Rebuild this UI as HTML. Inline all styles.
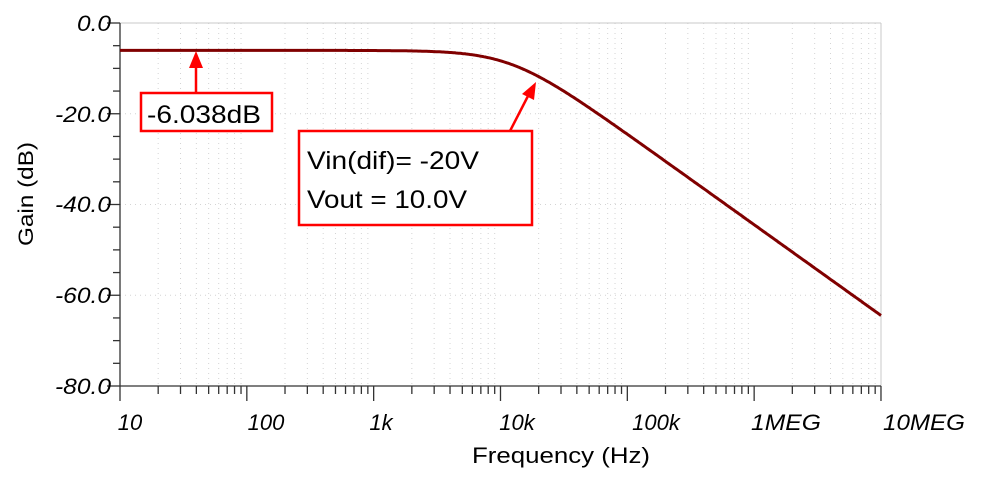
<!DOCTYPE html><html><head><style>body{margin:0;background:#fff}svg{display:block}</style></head><body>
<svg id="s" width="981" height="482" xmlns="http://www.w3.org/2000/svg" font-family="Liberation Sans, sans-serif">
<g id="grid" stroke="#d4d4d4" stroke-width="1" stroke-dasharray="1,4"></g>
<line x1="120" y1="23" x2="881" y2="23" stroke="#c8c8c8"/>
<line x1="881" y1="23" x2="881" y2="386" stroke="#c8c8c8"/>
<g id="axes" stroke="#333" stroke-width="1.3"></g>
<path id="curve" fill="none" stroke="#800000" stroke-width="3"/>
<g font-style="italic" font-size="22" fill="#000" text-anchor="end">
<text x="111" y="31" textLength="34" lengthAdjust="spacingAndGlyphs">0.0</text>
<text x="111" y="122" textLength="56" lengthAdjust="spacingAndGlyphs">-20.0</text>
<text x="111" y="212" textLength="56" lengthAdjust="spacingAndGlyphs">-40.0</text>
<text x="111" y="303" textLength="56" lengthAdjust="spacingAndGlyphs">-60.0</text>
<text x="111" y="394" textLength="56" lengthAdjust="spacingAndGlyphs">-80.0</text>
</g>
<g font-style="italic" font-size="22" fill="#000" text-anchor="middle">
<text x="130" y="430">10</text><text x="266" y="430">100</text><text x="381" y="430">1k</text><text x="517" y="430">10k</text><text x="656" y="430">100k</text><text x="786" y="430" textLength="70" lengthAdjust="spacingAndGlyphs">1MEG</text><text x="924" y="430" textLength="82" lengthAdjust="spacingAndGlyphs">10MEG</text>
</g>
<text x="561" y="463" font-size="22" text-anchor="middle" textLength="178" lengthAdjust="spacingAndGlyphs">Frequency (Hz)</text>
<text transform="translate(33,194) rotate(-90)" font-size="21" text-anchor="middle" textLength="104" lengthAdjust="spacingAndGlyphs">Gain (dB)</text>
<line x1="196" y1="93" x2="196" y2="66" stroke="red" stroke-width="2.5"/>
<polygon points="196,51 189,68 203,68" fill="red"/>
<rect x="141" y="93" width="131" height="38" fill="#fff" stroke="red" stroke-width="2.5"/>
<text x="147" y="123" font-size="25" textLength="114" lengthAdjust="spacingAndGlyphs">-6.038dB</text>
<line x1="510" y1="131" x2="528" y2="96" stroke="red" stroke-width="2.5"/>
<polygon points="536,82 522,94 534,100" fill="red"/>
<rect x="299" y="131" width="233" height="94" fill="#fff" stroke="red" stroke-width="2.5"/>
<text x="307" y="169" font-size="25" textLength="172" lengthAdjust="spacingAndGlyphs">Vin(dif)= -20V</text>
<text x="307" y="208" font-size="25" textLength="160" lengthAdjust="spacingAndGlyphs">Vout = 10.0V</text>
</svg>
<script>
var X=f=>120+126.83*Math.log10(f/10),Y=d=>23-d*4.5375;
var g=document.getElementById('grid'),a=document.getElementById('axes'),h='',ax='';
for(var e=1;e<7;e++)for(var m=1;m<10;m++){var x=X(m*Math.pow(10,e));if(x>881.5)break;
 if(m>1)h+='<line x1="'+x+'" y1="23" x2="'+x+'" y2="386"/>';
 ax+='<line x1="'+x+'" y1="386" x2="'+x+'" y2="'+(m==1?401:394)+'"/>';}
ax+='<line x1="'+X(1e7)+'" y1="386" x2="'+X(1e7)+'" y2="401"/>';
for(var d=-20;d>-80;d-=20)h+='<line x1="120" y1="'+Y(d)+'" x2="881" y2="'+Y(d)+'"/>';
for(var d=0;d>=-80;d-=5)ax+='<line x1="'+(d%20==0?107:113)+'" y1="'+Y(d)+'" x2="120" y2="'+Y(d)+'"/>';
ax+='<line x1="120" y1="23" x2="120" y2="386"/><line x1="120" y1="386" x2="881" y2="386"/>';
g.innerHTML=h;a.innerHTML=ax;
var p='';for(var i=0;i<=600;i++){var f=10*Math.pow(10,6*i/600);var db=-6.038-10*Math.log10(1+Math.pow(f/12000,2));p+=(i?'L':'M')+X(f).toFixed(1)+','+Y(db).toFixed(1);}
document.getElementById('curve').setAttribute('d',p);
</script>
</body></html>
